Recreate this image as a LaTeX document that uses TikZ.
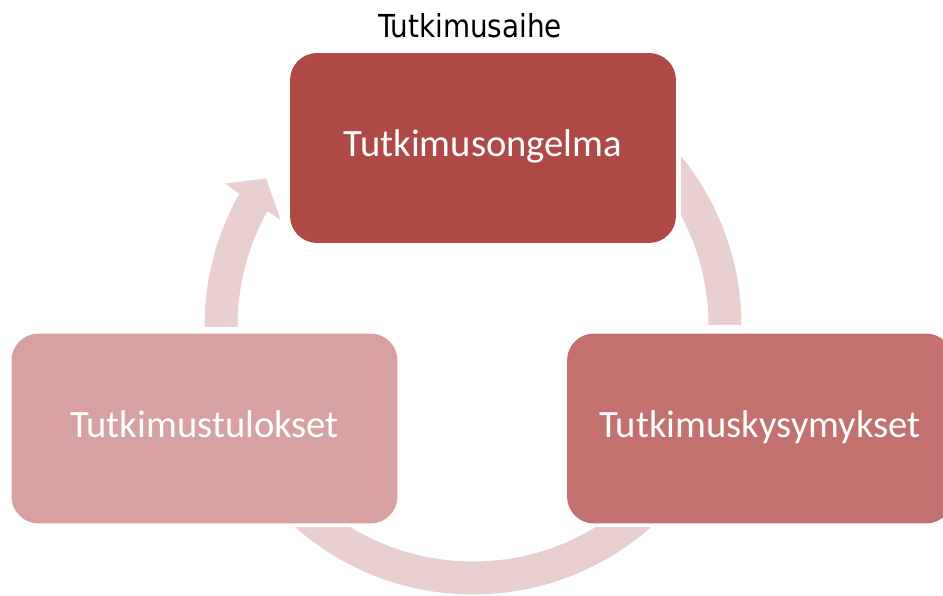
\documentclass[tikz,border=0pt]{standalone}
\usepackage{fontspec}
\newfontfamily\boxfont{Carlito}
\newfontfamily\titlefont{DejaVu Sans}[FakeStretch=0.88]
\definecolor{topred}{HTML}{AE4946}
\definecolor{midred}{HTML}{C3716E}
\definecolor{lightred}{HTML}{D6A1A0}
\definecolor{ringpink}{HTML}{E8CFD0}
\tikzset{
  box/.style={rounded corners=0.54cm, minimum width=7.72cm, minimum height=3.8cm,
    inner sep=0pt, text=white, text height=1.05em, text depth=0.05em,
    font=\boxfont\fontsize{22}{26}\selectfont},
  ringband/.style={draw=ringpink, line width=0.66cm},
}
\begin{document}
\begin{tikzpicture}[x=0.02cm,y=0.02cm]
\useasboundingbox (0,0) rectangle (943,595);
\clip (0,0) rectangle (943,595);
\coordinate (c) at (473,269);

% cycle band: upper right piece
\begin{scope}
  \clip (681,270) rectangle (943,595);
  \draw[ringband] (c) circle[radius=252];
\end{scope}
% cycle band: bottom piece
\begin{scope}
  \clip (0,0) rectangle (943,67);
  \draw[ringband] (c) circle[radius=252];
\end{scope}
% cycle band: left piece ending in the arrow head
\fill[ringpink] ([shift={(180.2:268.5)}]c)
  arc[start angle=180.2, end angle=150.5, radius=268.5]
  -- ([shift={(150.1:286)}]c)
  -- ([shift={(144.5:254)}]c)
  -- ([shift={(151.1:220)}]c)
  -- ([shift={(150.8:235.5)}]c)
  arc[start angle=150.8, end angle=180.2, radius=235.5] -- cycle;

% stages
\node[box, fill=topred]   (ongelma)   at (483,447)   {Tutkimusongelma};
\node[box, fill=midred]   (kysymykset) at (760,166.5) {Tutkimuskysymykset};
\node[box, fill=lightred] (tulokset)  at (204.5,166.5) {Tutkimustulokset};

% heading
\node[anchor=base, inner sep=0pt, font=\titlefont\fontsize{18}{22}\selectfont] (aihe) at (470,557) {Tutkimusaihe};
\end{tikzpicture}
\end{document}
